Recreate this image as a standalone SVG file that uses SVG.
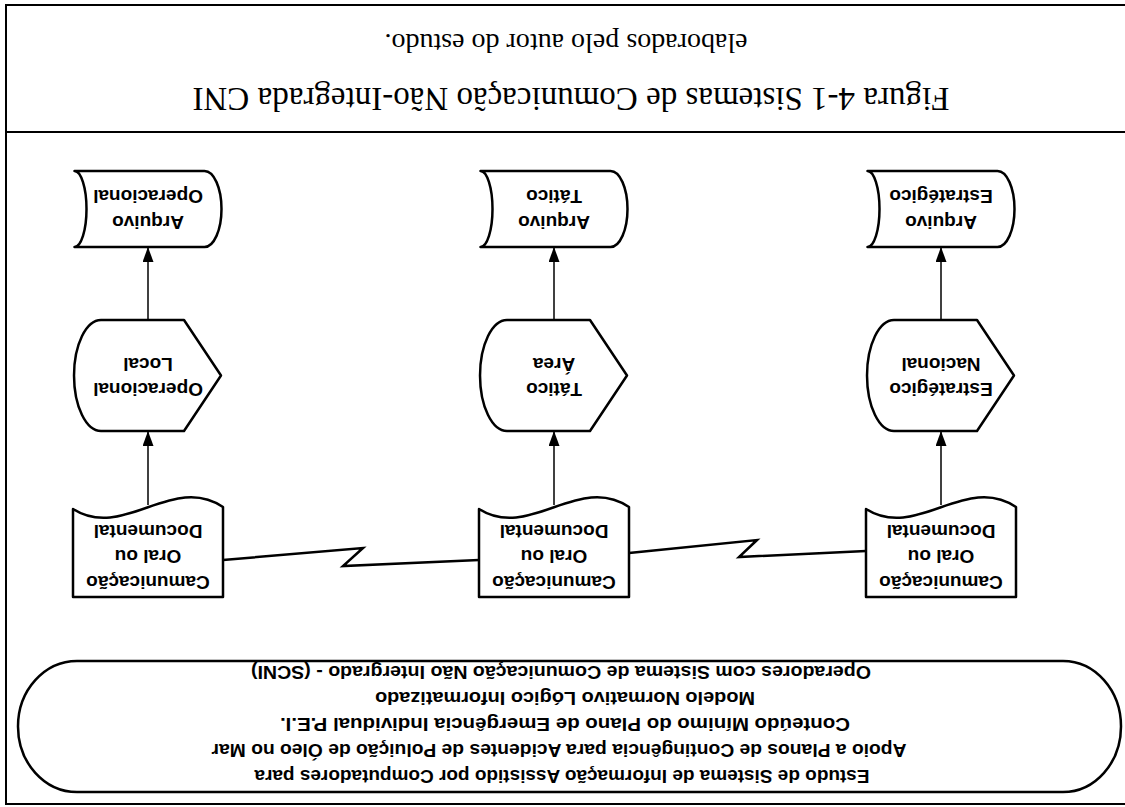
<svg xmlns="http://www.w3.org/2000/svg" width="1125" height="807" viewBox="0 0 1125 807">
  <defs>
    <marker id="arrow" markerWidth="15" markerHeight="11" refX="15" refY="5.5" orient="auto" markerUnits="userSpaceOnUse">
      <path d="M0,0 L15,5.5 L0,11 Z" fill="#000"/>
    </marker>
    <style>
      .shape{fill:#fff;stroke:#000;stroke-width:2.5;stroke-linejoin:round}
      .frame{stroke:#000;stroke-width:2;fill:none}
      .link{stroke:#000;stroke-width:1.5;fill:none}
      .bolt{stroke:#000;stroke-width:2.5;fill:none;stroke-linejoin:miter}
      .lbl{font-family:"Liberation Sans",Arial,sans-serif;font-weight:bold;font-size:19px;text-anchor:middle;fill:#000}
      .note{font-family:"Liberation Sans",Arial,sans-serif;font-weight:bold;font-size:18.5px;text-anchor:middle;fill:#000}
      .cap{font-family:"Liberation Serif","Times New Roman",serif;text-anchor:middle;fill:#000}
    </style>
  </defs>
  <rect width="1125" height="807" fill="#fff"/>

  <!-- the whole page is printed turned half a turn -->
  <g transform="rotate(180 562.5 403.5)">

    <!-- page frame -->
    <g id="frame">
      <line class="frame" x1="0" y1="3" x2="1119" y2="3"/>
      <line class="frame" x1="0" y1="675" x2="1119" y2="675"/>
      <line class="frame" x1="0" y1="802" x2="1119" y2="802"/>
      <line class="frame" x1="1119" y1="2" x2="1119" y2="803"/>
    </g>

    <!-- header terminator -->
    <g id="sistema">
      <path class="shape" d="M62 15 H1048 A59 65.5 0 0 1 1048 146 H62 A58 65.5 0 0 1 62 15 Z"/>
      <text class="note" x="563" y="37" textLength="615" lengthAdjust="spacingAndGlyphs">Estudo de Sistema de Informação Assistido por Computadores para</text>
      <text class="note" x="566" y="63" textLength="695" lengthAdjust="spacingAndGlyphs">Apoio a Planos de Contingência para Acidentes de Poluição de Óleo no Mar</text>
      <text class="note" x="560" y="89" textLength="570" lengthAdjust="spacingAndGlyphs">Conteúdo Mínimo do Plano de Emergência Individual P.E.I.</text>
      <text class="note" x="560" y="115" textLength="380" lengthAdjust="spacingAndGlyphs">Modelo Normativo Lógico Informatizado</text>
      <text class="note" x="564" y="141" textLength="620" lengthAdjust="spacingAndGlyphs">Operadores com Sistema de Comunicação Não Intergrado - (SCNI)</text>
    </g>

    <!-- documents -->
    <g id="doc-estrategico">
      <path class="shape" d="M109 210 H259 V298 C209 266 159 334 109 300 Z"/>
      <text class="lbl" x="184" y="231">Camunicação</text>
      <text class="lbl" x="184" y="257">Oral ou</text>
      <text class="lbl" x="184" y="282">Documental</text>
    </g>
    <g id="doc-tatico">
      <path class="shape" d="M496 210 H646 V298 C596 266 546 334 496 300 Z"/>
      <text class="lbl" x="571" y="231">Camunicação</text>
      <text class="lbl" x="571" y="257">Oral ou</text>
      <text class="lbl" x="571" y="282">Documental</text>
    </g>
    <g id="doc-operacional">
      <path class="shape" d="M902 210 H1052 V298 C1002 266 952 334 902 300 Z"/>
      <text class="lbl" x="977" y="231">Camunicação</text>
      <text class="lbl" x="977" y="257">Oral ou</text>
      <text class="lbl" x="977" y="282">Documental</text>
    </g>

    <!-- display nodes -->
    <g id="estrategico-nacional">
      <path class="shape" d="M111 431.5 L148 376 H231 A27 55.5 0 0 1 231 487 H148 Z"/>
      <text class="lbl" x="184" y="424">Estratégico</text>
      <text class="lbl" x="184" y="449">Nacional</text>
    </g>
    <g id="tatico-area">
      <path class="shape" d="M498 431.5 L535 376 H618 A27 55.5 0 0 1 618 487 H535 Z"/>
      <text class="lbl" x="571" y="424">Tático</text>
      <text class="lbl" x="571" y="449">Área</text>
    </g>
    <g id="operacional-local">
      <path class="shape" d="M904 431.5 L941 376 H1024 A27 55.5 0 0 1 1024 487 H941 Z"/>
      <text class="lbl" x="977" y="424">Operacional</text>
      <text class="lbl" x="977" y="449">Local</text>
    </g>

    <!-- stored data nodes -->
    <g id="arquivo-estrategico">
      <path class="shape" d="M127.5 560 H257.5 A12 38 0 0 0 257.5 636 H127.5 A17 38 0 0 1 127.5 560 Z"/>
      <text class="lbl" x="184" y="591">Arquivo</text>
      <text class="lbl" x="184" y="617">Estratégico</text>
    </g>
    <g id="arquivo-tatico">
      <path class="shape" d="M514.5 560 H644.5 A12 38 0 0 0 644.5 636 H514.5 A17 38 0 0 1 514.5 560 Z"/>
      <text class="lbl" x="571" y="591">Arquivo</text>
      <text class="lbl" x="571" y="617">Tático</text>
    </g>
    <g id="arquivo-operacional">
      <path class="shape" d="M920.5 560 H1050.5 A12 38 0 0 0 1050.5 636 H920.5 A17 38 0 0 1 920.5 560 Z"/>
      <text class="lbl" x="977" y="591">Arquivo</text>
      <text class="lbl" x="977" y="617">Operacional</text>
    </g>

    <!-- connectors -->
    <g id="connectors">
      <line class="link" x1="184" y1="302" x2="184" y2="376" marker-end="url(#arrow)"/>
      <line class="link" x1="571" y1="302" x2="571" y2="376" marker-end="url(#arrow)"/>
      <line class="link" x1="977" y1="302" x2="977" y2="376" marker-end="url(#arrow)"/>
      <line class="link" x1="184" y1="487" x2="184" y2="560" marker-end="url(#arrow)"/>
      <line class="link" x1="571" y1="487" x2="571" y2="560" marker-end="url(#arrow)"/>
      <line class="link" x1="977" y1="487" x2="977" y2="560" marker-end="url(#arrow)"/>
      <polyline class="bolt" points="902,247 762,259 782,241 646,247"/>
      <polyline class="bolt" points="496,254 368,267 386,250 259,256"/>
    </g>

    <!-- caption -->
    <g id="caption">
      <text class="cap" x="554" y="719" font-size="33">Figura 4-1 Sistemas de Comunicação Não-Integrada CNI</text>
      <text class="cap" x="559" y="773" font-size="28">elaborados pelo autor do estudo.</text>
    </g>
  </g>
</svg>
